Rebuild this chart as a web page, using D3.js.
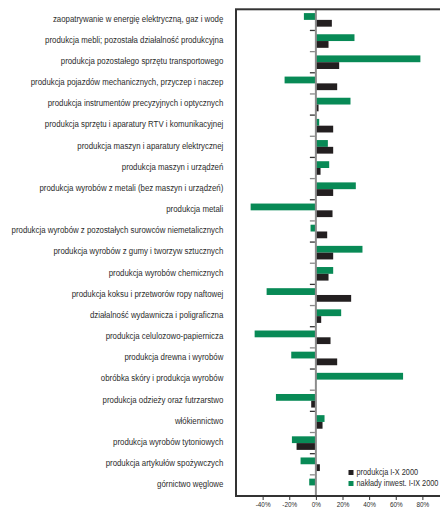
<!DOCTYPE html>
<html>
<head>
<meta charset="utf-8">
<script src="https://cdn.jsdelivr.net/npm/d3@7"></script>
<style>
html,body{margin:0;padding:0;background:#fff;overflow:hidden;}
svg{display:block;}
text{font-family:"Liberation Sans","Arial",sans-serif;fill:#2b2b2b;}
</style>
</head>
<body>
<svg id="chart" width="440" height="510"></svg>
<script>
const categories = [
  "zaopatrywanie w energię elektryczną, gaz i wodę",
  "produkcja mebli; pozostała działalność produkcyjna",
  "produkcja pozostałego sprzętu transportowego",
  "produkcja pojazdów mechanicznych, przyczep i naczep",
  "produkcja instrumentów precyzyjnych i optycznych",
  "produkcja sprzętu i aparatury RTV i komunikacyjnej",
  "produkcja maszyn i aparatury elektrycznej",
  "produkcja maszyn i urządzeń",
  "produkcja wyrobów z metali (bez maszyn i urządzeń)",
  "produkcja metali",
  "produkcja wyrobów z pozostałych surowców niemetalicznych",
  "produkcja wyrobów z gumy i tworzyw sztucznych",
  "produkcja wyrobów chemicznych",
  "produkcja koksu i przetworów ropy naftowej",
  "działalność wydawnicza i poligraficzna",
  "produkcja celulozowo-papiernicza",
  "produkcja drewna i wyrobów",
  "obróbka skóry i produkcja wyrobów",
  "produkcja odzieży oraz futrzarstwo",
  "włókiennictwo",
  "produkcja wyrobów tytoniowych",
  "produkcja artykułów spożywczych",
  "górnictwo węglowe"
];
// nakłady inwest. I-IX 2000 (%)
const investment = [-9, 29, 78.5, -23.5, 26, 2.5, 9, 10, 30, -49, -4, 35, 13, -37, 19, -46, -18.5, 65.5, -30, 6.5, -18, -11.5, -5];
// produkcja I-X 2000 (%)
const production = [12, 9.5, 17.5, 16, 2, 13, 13, 3.5, 13, 12.5, 8.5, 13, 9.5, 26.5, 4, 11, 16, 0, -3.5, 5, -14.5, 3, 0];
const seriesNames = ["nakłady inwest. I-IX 2000", "produkcja I-X 2000"];
const legendNames = ["produkcja I-X 2000", "nakłady inwest. I-IX 2000"];
const tickValues = [-40, -20, 0, 20, 40, 60, 80];
const xDomain = [-60, 100];

const GREEN = "#088a56", BLACK = "#231f20";
const svg = d3.select("#chart");

const pLeft = 236, pRight = 449, pTop = 9.3, pBottom = 496;
const x = d3.scaleLinear().domain(xDomain).range([pLeft, pRight]);
const y = d3.scaleBand().domain(categories).range([pTop, pBottom]).padding(0);
const sub = d3.scaleBand().domain(seriesNames).range([0, y.bandwidth()]).paddingInner(0).paddingOuter(0.56);

const rows = categories.map((c, i) => ({c, inv: investment[i], prod: production[i]}));

// bars
const g = svg.append("g");
rows.forEach(r => {
  [[seriesNames[0], r.inv, GREEN], [seriesNames[1], r.prod, BLACK]].forEach(([s, v, col]) => {
    if (v === 0) return;
    g.append("rect")
      .attr("x", x(Math.min(0, v)))
      .attr("width", Math.abs(x(v) - x(0)))
      .attr("y", y(r.c) + sub(s))
      .attr("height", sub.bandwidth())
      .attr("fill", col);
  });
});

// zero line
svg.append("line")
  .attr("x1", x(0)).attr("x2", x(0))
  .attr("y1", pTop).attr("y2", pBottom)
  .attr("stroke", "#8c8c8c").attr("stroke-width", 2);

// category ticks (band boundaries)
categories.slice(1).forEach((c, i) => {
  svg.append("line")
    .attr("x1", x(0) - 6).attr("x2", x(0) - 1)
    .attr("y1", y(c)).attr("y2", y(c))
    .attr("stroke", i % 2 === 0 ? "#333" : "#888").attr("stroke-width", 1.3);
});

// frame
svg.append("rect")
  .attr("x", pLeft).attr("y", pTop)
  .attr("width", pRight - pLeft).attr("height", pBottom - pTop)
  .attr("fill", "none").attr("stroke", "#333").attr("stroke-width", 2);

// bottom axis
const xAxis = d3.axisBottom(x).tickValues(tickValues).tickSize(4).tickFormat(d => d + "%");
const ax = svg.append("g").attr("transform", `translate(0,${pBottom})`).call(xAxis);
ax.select(".domain").remove();
ax.selectAll(".tick line").attr("stroke", "#333").attr("stroke-width", 1);
ax.selectAll(".tick text")
  .attr("y", 6).attr("dy", "0.71em")
  .attr("transform", "scale(0.85,1)")
  .style("font-size", "7.5px").style("font-family", '"Liberation Sans",Arial,sans-serif')
  .attr("fill", "#2b2b2b");

// category labels
const lab = svg.append("g");
lab.selectAll("text").data(categories).join("text")
  .attr("x", 0)
  .attr("y", d => y(d) + y.bandwidth() / 2 - 1)
  .attr("dy", "0.32em")
  .attr("text-anchor", "end")
  .style("font-size", "8.6px")
  .text(d => d);
let maxW = 0;
lab.selectAll("text").each(function () { maxW = Math.max(maxW, this.getComputedTextLength()); });
const k = 212 / maxW;
lab.attr("transform", `translate(223.3,0) scale(${k},1)`);

// legend
const leg = svg.append("g");
const legTexts = [];
legendNames.forEach((n, i) => {
  const yy = 470 + i * 11;
  leg.append("rect").attr("x", 348.5).attr("y", yy).attr("width", 5).attr("height", 5)
    .attr("fill", i === 0 ? BLACK : GREEN);
  legTexts.push(leg.append("text")
    .attr("data-y", yy + 5.3)
    .style("font-size", "8.6px")
    .text(n));
});
let legW = 0;
legTexts.forEach(t => { legW = Math.max(legW, t.node().getComputedTextLength()); });
const kl = Math.min(k, 82 / legW);
legTexts.forEach(t => t.attr("transform", `translate(356.5,${t.attr("data-y")}) scale(${kl},1)`));
</script>
</body>
</html>
